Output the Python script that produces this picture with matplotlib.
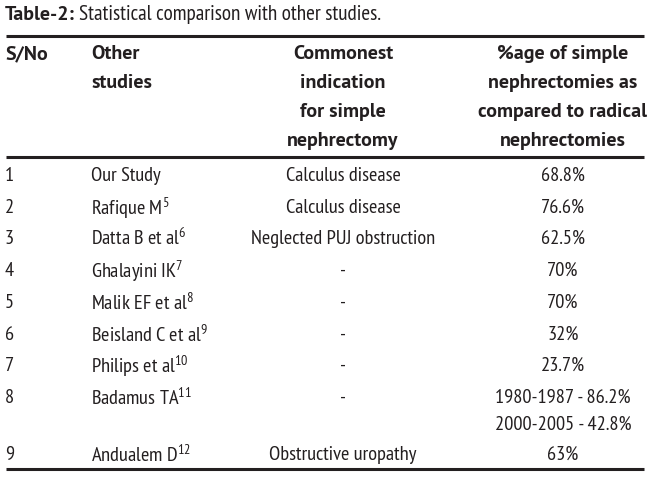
import matplotlib
matplotlib.use('Agg')
import matplotlib.pyplot as plt

plt.rcParams['font.family'] = ['PT Sans Narrow', 'Liberation Sans', 'DejaVu Sans']
plt.rcParams['mathtext.default'] = 'regular'

# datos de la tabla
sno = ['1', '2', '3', '4', '5', '6', '7', '8', '9']
studies = ['Our Study', 'Rafique M', 'Datta B et al', 'Ghalayini IK', 'Malik EF et al',
           'Beisland C et al', 'Philips et al', 'Badamus TA', 'Andualem D']
refs = ['', '5', '6', '7', '8', '9', '10', '11', '12']
indication = ['Calculus disease', 'Calculus disease', 'Neglected PUJ obstruction',
              '-', '-', '-', '-', '-', 'Obstructive uropathy']
percent = ['68.8%', '76.6%', '62.5%', '70%', '70%', '32%', '23.7%',
           ['1980-1987 - 86.2%', '2000-2005 - 42.8%'], '63%']
headers = [['S/No'], ['Other', 'studies'],
           ['Commonest', 'indication', 'for simple', 'nephrectomy'],
           ['%age of simple', 'nephrectomies as', 'compared to radical', 'nephrectomies']]
title_bold = 'Table-2:'
title_rest = 'Statistical comparison with other studies.'

ink = '#231f20'
fs = 14.7
bold_fam = ['PT Sans', 'Liberation Sans', 'DejaVu Sans']

fig = plt.figure(figsize=(6.5, 4.81), dpi=100)
ax = fig.add_axes([0, 0, 1, 1])
ax.set_xlim(0, 650)
ax.set_ylim(481, 0)
ax.axis('off')

# titulo
t1 = ax.text(5, 15, title_bold, fontsize=14.4, family=bold_fam, fontweight='bold',
             color=ink, va='center')
fig.canvas.draw()
bb = t1.get_window_extent().transformed(ax.transData.inverted())
ax.text(bb.x1 + 4, 15, title_rest, fontsize=15.3, color=ink, va='center')

# lineas
for y in [37, 158, 470]:
    ax.plot([6, 644], [y, y], color=ink, lw=2.2, solid_capstyle='butt')

# encabezado
col_x = [5, 91, 343, 563]
col_ha = ['left', 'left', 'center', 'center']
head_y = [54, 83, 112, 141]
for c, lines in enumerate(headers):
    for i, s in enumerate(lines):
        ax.text(col_x[c], head_y[i], s, fontsize=14.4, family=bold_fam, fontweight='bold',
                color=ink, ha=col_ha[c], va='center')

# filas
row_y = [176, 208, 239, 271, 303, 335, 366, 398, 455]
for i in range(len(sno)):
    y = row_y[i]
    ax.text(col_x[0], y, sno[i], fontsize=fs, color=ink, va='center')
    name = studies[i] + ('$^{' + refs[i] + '}$' if refs[i] else '')
    ax.text(col_x[1], y, name, fontsize=fs, color=ink, va='center')
    ax.text(col_x[2], y, indication[i], fontsize=fs, color=ink, ha='center', va='center')
    p = percent[i]
    if isinstance(p, list):
        for k, s in enumerate(p):
            ax.text(col_x[3], y + 27 * k, s, fontsize=fs, color=ink, ha='center', va='center')
    else:
        ax.text(col_x[3], y, p, fontsize=fs, color=ink, ha='center', va='center')

fig.savefig('out.png', dpi=100)
